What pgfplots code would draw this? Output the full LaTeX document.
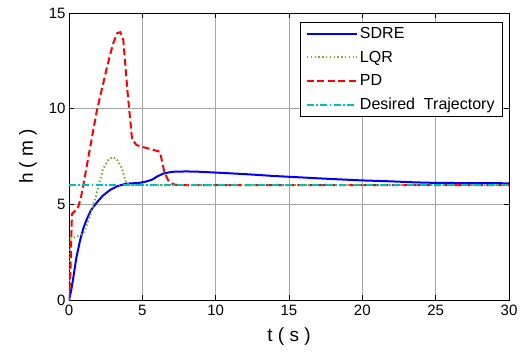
\documentclass[border=0pt]{standalone}
\usepackage{fontspec}
\setmainfont{Liberation Sans}
\usepackage{pgfplots}
\pgfplotsset{compat=1.18}
\definecolor{sdre}{rgb}{0,0,1}
\definecolor{lqr}{rgb}{0.47,0.70,0.2}
\definecolor{pd}{rgb}{1,0,0}
\definecolor{des}{rgb}{0,0.75,0.75}
\begin{document}
\begin{tikzpicture}
\begin{axis}[
  scale only axis, width=440pt, height=287pt,
  at={(0,0)}, anchor=south west,
  xmin=0, xmax=30, ymin=0, ymax=15,
  xtick={0,5,...,30}, ytick={0,5,10,15},
  grid=major, grid style={gray!70, line width=0.6pt},
  axis line style={black, line width=0.9pt},
  tick align=inside, tick pos=both, major tick length=5pt,
  every tick/.style={black, line width=0.7pt},
  /pgf/number format/assume math mode=true,
  tick label style={font=\fontsize{15}{17}\selectfont},
  xticklabel style={yshift=-1.5pt},
  xlabel={t ( s )}, ylabel={h ( m )},
  label style={font=\fontsize{19}{21}\selectfont},
  xlabel style={yshift=-5pt},
  ylabel style={yshift=5pt},
  legend cell align=left,
  legend style={at={(1,1)}, anchor=north east, xshift=-6pt, yshift=-9pt,
    font=\fontsize{16}{18}\selectfont, draw=black, line width=0.9pt,
    row sep=7pt, inner xsep=6pt, inner ysep=3pt},
  legend image code/.code={\draw[#1, line width=2pt] (0pt,0pt) -- (50pt,0pt);},
]
\addplot[sdre, line width=2pt] coordinates {
(0,0) (0.15,0.5) (0.3,1.2) (0.5,2.2) (0.75,3.1) (1.0,3.8) (1.2,4.2) (1.5,4.7)
(1.9,5.1) (2.3,5.45) (2.8,5.75) (3.3,5.95) (3.9,6.08) (4.8,6.12) (5.3,6.2)
(5.7,6.3) (6.0,6.45) (6.4,6.6) (7.0,6.7) (8.0,6.72) (9.0,6.7) (10,6.66)
(12,6.58) (14,6.48) (16,6.4) (18,6.32) (20,6.25) (22,6.2) (23.5,6.15)
(25,6.12) (30,6.1)};
\addlegendentry{SDRE}
\addplot[lqr, line width=2pt, dash pattern=on 1.5pt off 2.3pt] coordinates {
(0,0) (0.1,3.2) (0.5,3.3) (1.0,3.5) (1.4,4.3) (1.9,5.6) (2.3,6.8) (2.7,7.35)
(3.0,7.47) (3.3,7.3) (3.6,6.9) (3.9,6.1) (4.2,6.0) (30,6.0)};
\addlegendentry{LQR}
\addplot[pd, line width=2pt, dash pattern=on 7pt off 3.5pt] coordinates {
(0,0) (0.1,1.5) (0.2,4.5) (0.6,4.8) (0.8,5.3) (1.0,6.1) (1.4,7.8) (1.9,9.9)
(2.6,12.2) (3.0,13.4) (3.3,13.95) (3.5,14.0) (3.7,13.6) (4.0,10.8) (4.3,8.4)
(4.6,8.1) (5.0,8.0) (5.5,7.9) (6.2,7.75) (6.5,6.7) (6.8,6.2) (7.1,6.05)
(7.5,6.0) (30,6.0)};
\addlegendentry{PD}
\addplot[des, line width=2pt, dash pattern=on 7pt off 2.5pt on 1.5pt off 2.5pt] coordinates {
(0,6) (30,6)};
\addlegendentry{Desired\ \ Trajectory}
\end{axis}
\pgfresetboundingbox
\path[use as bounding box] (-69pt,-51pt) rectangle (458pt,300pt);
\end{tikzpicture}
\end{document}
